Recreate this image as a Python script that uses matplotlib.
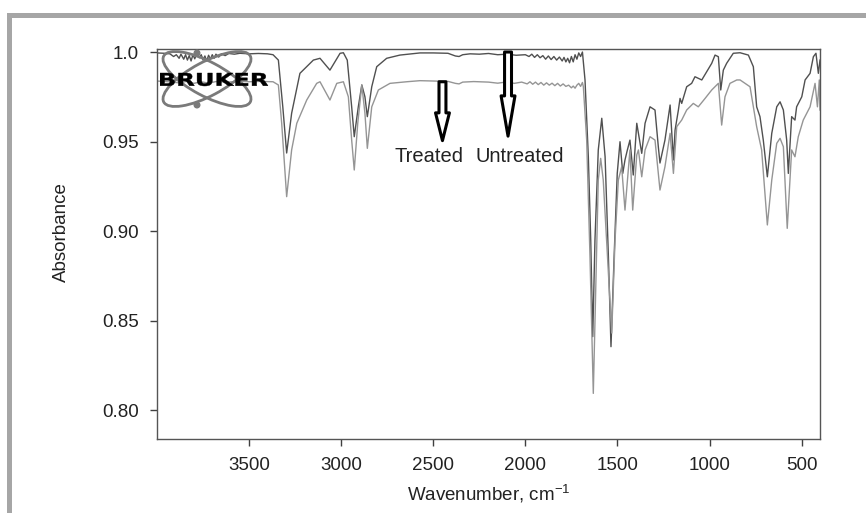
import matplotlib
matplotlib.use("Agg")
import matplotlib.pyplot as plt
from matplotlib.patches import Ellipse, Rectangle, Circle, PathPatch
from matplotlib.textpath import TextPath
from matplotlib.font_manager import FontProperties
from matplotlib.transforms import Affine2D

plt.rcParams['font.family'] = ['Liberation Sans', 'DejaVu Sans']
plt.rcParams['mathtext.default'] = 'regular'

# Untreated spectrum (darker line)
untreated_wn = [4000, 3960, 3930, 3910, 3895, 3880, 3870, 3855, 3845, 3835, 3825, 3815,
                3805, 3795, 3785, 3770, 3760, 3750, 3740, 3730, 3720, 3710, 3700, 3690,
                3680, 3665, 3650, 3630, 3610, 3580, 3550, 3500, 3450, 3400, 3370,
                3341, 3317, 3296, 3269, 3224, 3151, 3115, 3061, 3006, 2988, 2967, 2943,
                2929, 2907, 2888, 2871, 2858, 2834, 2807, 2753, 2681, 2572,
                2500, 2420, 2380, 2360, 2340, 2300, 2250, 2200, 2150, 2100, 2050,
                2000, 1980, 1965, 1950, 1935, 1920, 1905, 1890, 1875, 1860, 1845, 1830,
                1815, 1800, 1790, 1780, 1770, 1760, 1750, 1740, 1730, 1720, 1710, 1700,
                1690, 1676, 1658, 1645, 1634, 1622, 1604, 1585, 1567, 1549, 1535, 1518,
                1501, 1486, 1471, 1459, 1446, 1432, 1414, 1395, 1368, 1350, 1323, 1296,
                1278, 1269, 1242, 1214, 1196, 1187, 1169, 1160, 1151, 1124, 1097, 1079,
                1042, 1015, 988, 970, 952, 939, 925, 907, 871, 834, 789, 762, 744, 726,
                708, 686, 662, 635, 617, 599, 581, 572, 554, 536, 527, 499, 481, 454,
                436, 422, 409, 400]
untreated_abs = [0.9995, 0.9993, 0.9990, 0.9975, 0.9985, 0.9965, 0.9988, 0.9960, 0.9985,
                 0.9955, 0.9980, 0.9950, 0.9985, 0.9962, 0.9990, 0.9968, 0.9985, 0.9955,
                 0.9978, 0.9950, 0.9982, 0.9960, 0.9985, 0.9965, 0.9988, 0.9972, 0.9990,
                 0.9980, 0.9992, 0.9988, 0.9993, 0.9990, 0.9992, 0.9990, 0.9985,
                 0.9955, 0.9694, 0.9436, 0.9658, 0.9881, 0.9955, 0.9965, 0.9899, 0.9993,
                 0.9996, 0.9955, 0.9694, 0.9527, 0.9694, 0.9816, 0.9750, 0.9639, 0.9806,
                 0.9918, 0.9965, 0.9983, 0.9995,
                 0.9995, 0.9993, 0.9978, 0.9975, 0.9985, 0.9990, 0.9988, 0.9992, 0.9985,
                 0.9988, 0.9982,
                 0.9985, 0.9975, 0.9988, 0.9970, 0.9985, 0.9968, 0.9980, 0.9960, 0.9978,
                 0.9958, 0.9975, 0.9955, 0.9972, 0.9950, 0.9970, 0.9945, 0.9965, 0.9940,
                 0.9975, 0.9945, 0.9985, 0.9960, 0.9995, 0.9975,
                 1.0000, 0.9844, 0.9415, 0.8950, 0.8410, 0.8950, 0.9453, 0.9630, 0.9415,
                 0.8856, 0.8354, 0.8856, 0.9322, 0.9499, 0.9322, 0.9397, 0.9453, 0.9508,
                 0.9313, 0.9602, 0.9434, 0.9602, 0.9694, 0.9676, 0.9471, 0.9380, 0.9508,
                 0.9704, 0.9397, 0.9564, 0.9676, 0.9741, 0.9713, 0.9806, 0.9825, 0.9862,
                 0.9844, 0.9890, 0.9937, 0.9983, 0.9974, 0.9788, 0.9899, 0.9937, 0.9993,
                 0.9996, 0.9983, 0.9918, 0.9694, 0.9639, 0.9508, 0.9303, 0.9546, 0.9694,
                 0.9722, 0.9676, 0.9508, 0.9322, 0.9639, 0.9620, 0.9694, 0.9750, 0.9844,
                 0.9881, 0.9974, 0.9993, 0.9881, 0.9955]

# Treated spectrum (lighter line)
treated_wn = [4000, 3940, 3880, 3840, 3800, 3760, 3720, 3680, 3620, 3560, 3500, 3440, 3370,
              3341, 3323, 3296, 3269, 3241, 3187, 3133, 3115, 3061, 3024, 2988, 2961, 2943,
              2929, 2910, 2888, 2871, 2858, 2834, 2798, 2735, 2644, 2572,
              2500, 2420, 2380, 2360, 2340, 2280, 2200, 2150, 2100, 2060, 2020,
              1990, 1975, 1960, 1945, 1930, 1915, 1900, 1885, 1870, 1855, 1840, 1825,
              1810, 1795, 1780, 1765, 1750, 1740, 1730, 1720, 1710, 1700, 1690,
              1685, 1667, 1649, 1631, 1616, 1604, 1591, 1577, 1549, 1531, 1513, 1495,
              1477, 1459, 1443, 1432, 1417, 1395, 1386, 1368, 1350, 1323, 1296, 1269,
              1242, 1214, 1196, 1178, 1151, 1124, 1088, 1061, 1024, 988, 952, 934, 916,
              889, 852, 834, 780, 744, 717, 686, 662, 635, 617, 599, 578, 554, 536, 518,
              491, 454, 427, 414, 404, 400]
treated_abs = [0.9838, 0.9834, 0.9828, 0.9836, 0.9825, 0.9834, 0.9826, 0.9835, 0.9832,
               0.9836, 0.9834, 0.9836, 0.9834,
               0.9816, 0.9602, 0.9192, 0.9453, 0.9602, 0.9732, 0.9825, 0.9834, 0.9732,
               0.9825, 0.9834, 0.9750, 0.9508, 0.9341, 0.9602, 0.9816, 0.9658, 0.9462,
               0.9694, 0.9788, 0.9825, 0.9834, 0.9840,
               0.9838, 0.9836, 0.9825, 0.9822, 0.9832, 0.9835, 0.9832, 0.9826, 0.9833,
               0.9825, 0.9832,
               0.9822, 0.9834, 0.9820, 0.9832, 0.9818, 0.9830, 0.9815, 0.9828, 0.9815,
               0.9826, 0.9812, 0.9825, 0.9810, 0.9822, 0.9808, 0.9815, 0.9800, 0.9810,
               0.9798, 0.9815, 0.9825, 0.9808, 0.9830,
               0.9806, 0.9508, 0.8856, 0.8093, 0.8765, 0.9285, 0.9406, 0.9285, 0.8765,
               0.8430, 0.8950, 0.9285, 0.9359, 0.9117, 0.9313, 0.9453, 0.9117, 0.9425,
               0.9453, 0.9303, 0.9453, 0.9527, 0.9508, 0.9229, 0.9359, 0.9546, 0.9322,
               0.9583, 0.9620, 0.9676, 0.9713, 0.9694, 0.9741, 0.9788, 0.9825, 0.9592,
               0.9750, 0.9825, 0.9844, 0.9844, 0.9806, 0.9583, 0.9453, 0.9034, 0.9285,
               0.9490, 0.9518, 0.9471, 0.9015, 0.9453, 0.9415, 0.9527, 0.9620, 0.9694,
               0.9825, 0.9694, 0.9844, 0.9676]

x_ticks = [3500, 3000, 2500, 2000, 1500, 1000, 500]
y_ticks = [1.0, 0.95, 0.90, 0.85, 0.80]
y_tick_labels = ["1.0", "0.95", "0.90", "0.85", "0.80"]

fig = plt.figure(figsize=(8.66, 5.13), dpi=100)
ax = fig.add_axes([0.1813, 0.1442, 0.7656, 0.7603])

ax.plot(untreated_wn, untreated_abs, color="#505050", lw=1.0)
ax.plot(treated_wn, treated_abs, color="#959595", lw=1.0)

ax.set_xlim(4000, 400)
ax.set_ylim(0.7838, 1.0017)
ax.set_xticks(x_ticks)
ax.set_yticks(y_ticks)
ax.set_yticklabels(y_tick_labels)
ax.tick_params(length=5, width=1, color="#404040", labelsize=13.5, pad=8, labelcolor="#222222")
for s in ax.spines.values():
    s.set_color("#555555")
    s.set_linewidth(1.0)

ax.set_xlabel("Wavenumber, cm$^{-1}$", fontsize=13.5, color="#222222", labelpad=6)
ax.set_ylabel("Absorbance", fontsize=13.5, color="#222222")
ax.yaxis.set_label_coords(-0.131, 0.53)

# hollow arrows with labels
def hollow(head_len):
    return dict(arrowstyle="simple,head_length=%.2f,head_width=1.0,tail_width=0.5" % head_len,
                fc="white", ec="black", lw=2.2, shrinkA=0, shrinkB=0, mutation_scale=10)

ax.annotate("", xy=(2450, 0.9505), xytext=(2450, 0.9834), arrowprops=hollow(2.0))
ax.annotate("", xy=(2094, 0.9530), xytext=(2094, 1.0000), arrowprops=hollow(2.9))
ax.text(2523, 0.9415, "Treated", fontsize=14.5, ha="center", va="center", color="#222222")
ax.text(2032, 0.9415, "Untreated", fontsize=14.5, ha="center", va="center", color="#222222")

# Bruker logo (pixel units inside a small overlay axes)
lax = fig.add_axes([160 / 866, 1 - 112 / 513, 110 / 866, 66 / 513])
lax.set_xlim(0, 110)
lax.set_ylim(0, 66)
lax.axis("off")
lax.patch.set_alpha(0)
for ang in (28, -28):
    lax.add_patch(Ellipse((47, 33), 98, 34, angle=ang, fill=False, ec="#7a7a7a", lw=2))
lax.add_patch(Circle((37, 59), 2.8, color="#7a7a7a"))
lax.add_patch(Circle((37, 7), 2.8, color="#7a7a7a"))
tp = TextPath((0, 0), "BRUKER", size=10, prop=FontProperties(family="DejaVu Sans", weight="heavy"))
bb = tp.get_extents()
fit = Affine2D().translate(-bb.x0, -bb.y0).scale(108 / bb.width, 13 / bb.height).translate(0, 26)
lax.add_patch(PathPatch(fit.transform_path(tp), fc="black", ec="black", lw=0.3))

# grey frame on top and left
fig.patches.append(Rectangle((7 / 866, 1 - 18 / 513), 1, 5 / 513, transform=fig.transFigure,
                             color="#a6a6a6", lw=0))
fig.patches.append(Rectangle((7 / 866, 0), 5 / 866, 1 - 13 / 513, transform=fig.transFigure,
                             color="#a6a6a6", lw=0))

fig.savefig("out.png", dpi=100)
